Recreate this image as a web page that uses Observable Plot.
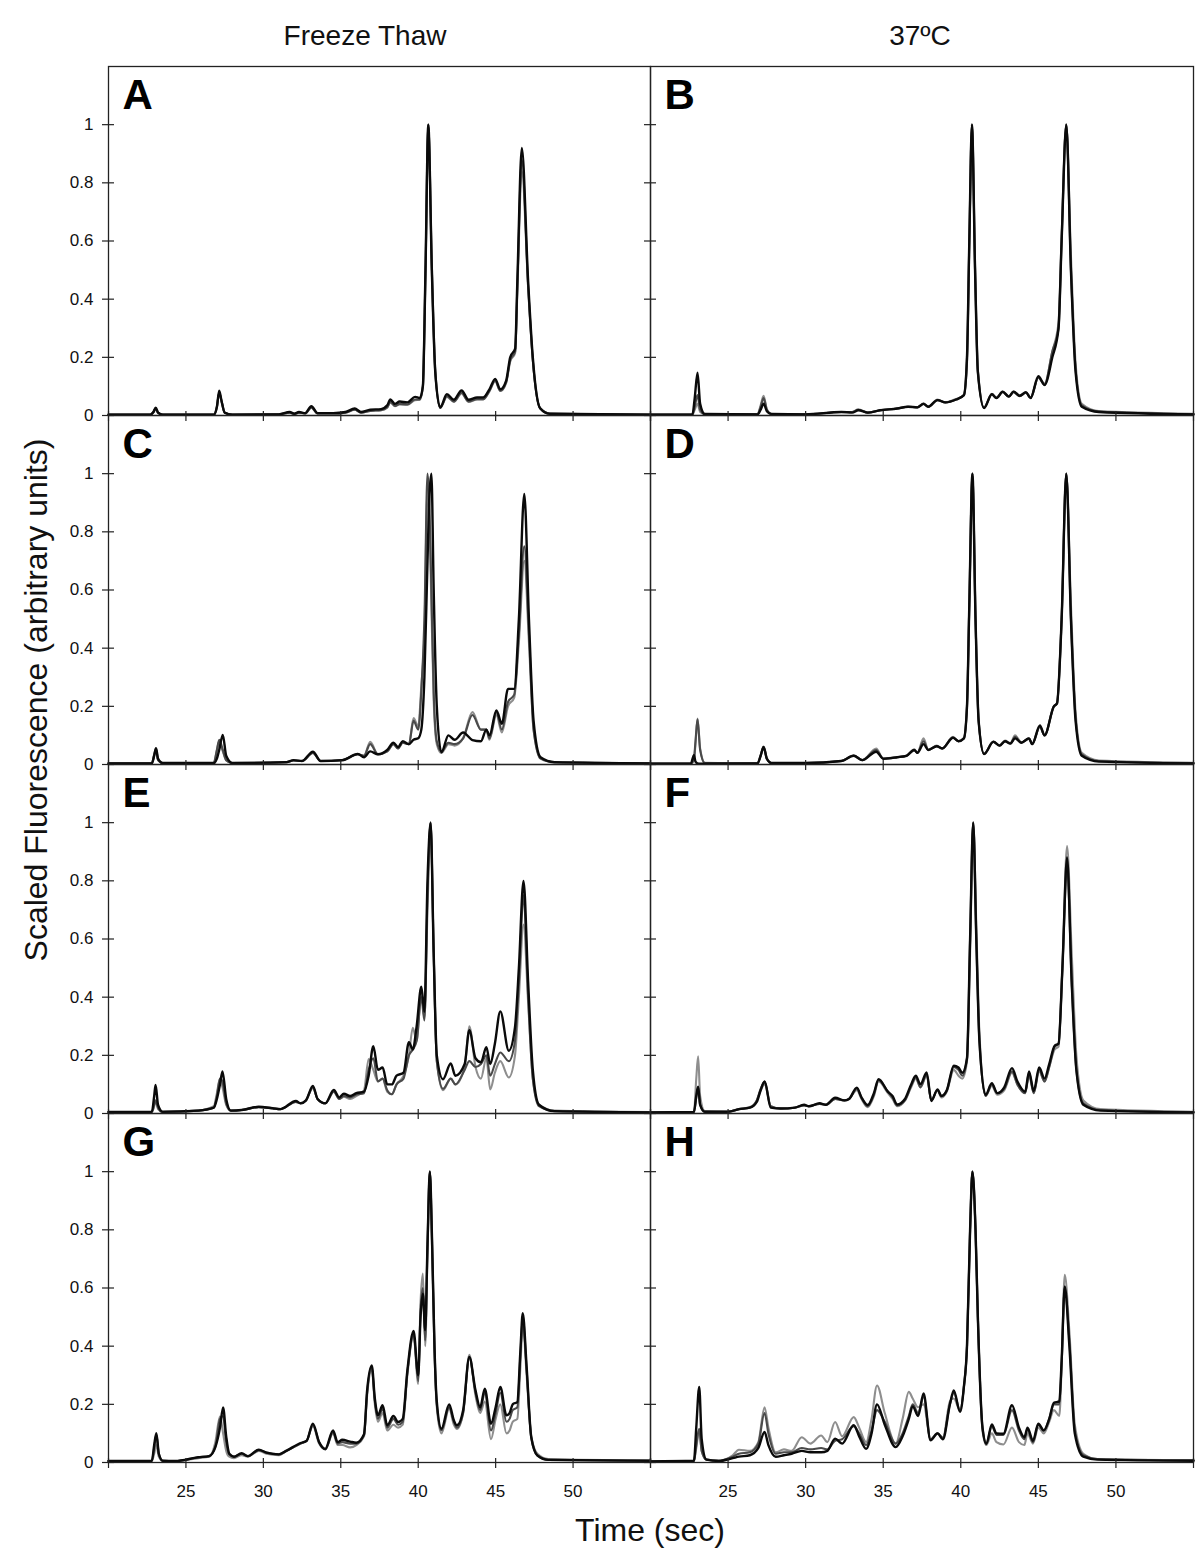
<!DOCTYPE html>
<html><head><meta charset="utf-8">
<script src="https://cdn.jsdelivr.net/npm/d3@7"></script>
<script src="https://cdn.jsdelivr.net/npm/@observablehq/plot@0.6"></script>
<style>
body{margin:0;background:#fff;font-family:"Liberation Sans",Arial,sans-serif;}
#fig{position:relative;width:1200px;height:1567px;overflow:hidden;background:#fff;}
.lbl{position:absolute;color:#111;white-space:nowrap;line-height:1;font-family:"Liberation Sans",Arial,sans-serif;}
.pl{position:absolute;}
</style></head><body><div id="fig"></div>
<script>
// ---- tick values ----
const xTicks = [20, 25, 30, 35, 40, 45, 50, 55];
const xLabels = [25, 30, 35, 40, 45, 50];
const yTicks = [0, 0.2, 0.4, 0.6, 0.8, 1];
const columnTitles = ["Freeze Thaw", "37ºC"];
const xTitle = "Time (sec)";
const yTitle = "Scaled Fluorescence (arbitrary units)";

// ---- Panel A (Freeze Thaw) ----
const tA = [20, 22.7, 22.9, 23.05, 23.2, 23.5, 26.8, 27.0, 27.15, 27.3, 27.5, 28, 31, 31.7, 32.0, 32.3, 32.7, 33.1, 33.5, 34.5, 35.3, 35.9, 36.3, 36.9, 37.6, 38.0, 38.2, 38.5, 38.8, 39.3, 39.8, 40.1, 40.3, 40.47, 40.65, 40.88, 41.1, 41.42, 41.85, 42.3, 42.8, 43.25, 43.8, 44.2, 44.6, 44.97, 45.3, 45.68, 45.94, 46.26, 46.4, 46.69, 47.1, 47.4, 47.87, 48.5, 55];
const A1 = [0.003, 0.003, 0.012, 0.027, 0.01, 0.003, 0.003, 0.03, 0.085, 0.05, 0.01, 0.003, 0.004, 0.012, 0.006, 0.012, 0.008, 0.032, 0.008, 0.008, 0.012, 0.024, 0.012, 0.02, 0.022, 0.035, 0.055, 0.04, 0.048, 0.045, 0.064, 0.06, 0.1, 0.5, 1.0, 0.5, 0.15, 0.028, 0.073, 0.054, 0.086, 0.054, 0.062, 0.062, 0.09, 0.126, 0.09, 0.12, 0.2, 0.23, 0.46, 0.92, 0.46, 0.2, 0.025, 0.006, 0.003];
const A2 = [0.003, 0.003, 0.012, 0.025, 0.01, 0.003, 0.003, 0.03, 0.08, 0.05, 0.01, 0.003, 0.004, 0.01, 0.006, 0.01, 0.007, 0.028, 0.007, 0.007, 0.01, 0.02, 0.01, 0.016, 0.018, 0.028, 0.047, 0.033, 0.04, 0.038, 0.055, 0.055, 0.1, 0.5, 1.0, 0.5, 0.15, 0.026, 0.066, 0.048, 0.078, 0.048, 0.056, 0.056, 0.085, 0.12, 0.085, 0.115, 0.19, 0.22, 0.44, 0.88, 0.44, 0.19, 0.025, 0.006, 0.003];
const A3 = [0.003, 0.003, 0.01, 0.022, 0.008, 0.003, 0.003, 0.028, 0.078, 0.048, 0.01, 0.003, 0.004, 0.01, 0.006, 0.01, 0.007, 0.027, 0.007, 0.007, 0.01, 0.02, 0.01, 0.016, 0.018, 0.027, 0.045, 0.032, 0.038, 0.037, 0.053, 0.054, 0.1, 0.48, 1.0, 0.52, 0.16, 0.026, 0.064, 0.047, 0.076, 0.047, 0.055, 0.055, 0.083, 0.118, 0.084, 0.112, 0.185, 0.215, 0.42, 0.84, 0.44, 0.19, 0.026, 0.007, 0.003];

// ---- Panel B (37C) ----
const tB = [20, 22.7, 22.85, 23.03, 23.2, 23.5, 26.9, 27.1, 27.29, 27.5, 27.8, 30, 32.3, 33.0, 33.4, 34.0, 34.8, 35.9, 36.6, 37.2, 37.6, 37.9, 38.5, 39.0, 39.7, 40.2, 40.4, 40.55, 40.72, 40.92, 41.1, 41.5, 42.0, 42.3, 42.7, 43.1, 43.4, 43.8, 44.2, 44.5, 45.0, 45.4, 45.9, 46.3, 46.5, 46.8, 47.1, 47.4, 47.8, 48.9, 55];
const B1 = [0.003, 0.003, 0.06, 0.147, 0.04, 0.005, 0.004, 0.02, 0.041, 0.015, 0.005, 0.004, 0.012, 0.01, 0.018, 0.01, 0.018, 0.024, 0.03, 0.028, 0.04, 0.03, 0.053, 0.045, 0.055, 0.07, 0.2, 0.6, 1.0, 0.5, 0.15, 0.026, 0.073, 0.06, 0.082, 0.065, 0.082, 0.068, 0.08, 0.06, 0.135, 0.105, 0.2, 0.3, 0.6, 1.0, 0.5, 0.15, 0.03, 0.012, 0.004];
const B2 = [0.003, 0.003, 0.03, 0.07, 0.02, 0.005, 0.004, 0.03, 0.06, 0.02, 0.005, 0.004, 0.012, 0.012, 0.02, 0.01, 0.018, 0.024, 0.03, 0.028, 0.04, 0.03, 0.053, 0.045, 0.055, 0.07, 0.2, 0.6, 1.0, 0.5, 0.15, 0.026, 0.073, 0.06, 0.08, 0.065, 0.08, 0.066, 0.078, 0.06, 0.13, 0.105, 0.22, 0.3, 0.6, 1.0, 0.5, 0.16, 0.035, 0.014, 0.005];
const B3 = [0.003, 0.003, 0.02, 0.04, 0.012, 0.005, 0.004, 0.035, 0.068, 0.022, 0.005, 0.004, 0.012, 0.012, 0.021, 0.01, 0.018, 0.024, 0.03, 0.028, 0.042, 0.03, 0.055, 0.045, 0.057, 0.07, 0.18, 0.58, 1.0, 0.52, 0.16, 0.028, 0.075, 0.062, 0.082, 0.066, 0.083, 0.068, 0.08, 0.062, 0.13, 0.11, 0.22, 0.32, 0.62, 1.0, 0.55, 0.18, 0.04, 0.015, 0.006];

// ---- Panel C (Freeze Thaw) ----
const tC = [20, 22.8, 22.95, 23.07, 23.2, 23.5, 26.8, 27.0, 27.15, 27.38, 27.6, 28, 31.5, 31.95, 32.5, 33.2, 33.7, 35.1, 36.1, 36.5, 36.9, 37.4, 38.0, 38.4, 38.7, 39.0, 39.4, 39.7, 40.0, 40.2, 40.4, 40.6, 40.72, 40.85, 41.0, 41.2, 41.5, 41.95, 42.35, 42.9, 43.5, 44.05, 44.4, 44.6, 45.05, 45.4, 45.8, 46.2, 46.5, 46.85, 47.15, 47.45, 47.9, 48.8, 55];
const C1 = [0.004, 0.004, 0.03, 0.056, 0.02, 0.005, 0.005, 0.02, 0.05, 0.102, 0.03, 0.005, 0.008, 0.015, 0.012, 0.044, 0.012, 0.015, 0.036, 0.025, 0.045, 0.035, 0.05, 0.075, 0.06, 0.08, 0.07, 0.085, 0.09, 0.12, 0.3, 0.7, 0.92, 1.0, 0.6, 0.2, 0.042, 0.1, 0.085, 0.11, 0.084, 0.08, 0.12, 0.1, 0.186, 0.14, 0.26, 0.26, 0.5, 0.93, 0.5, 0.15, 0.025, 0.008, 0.004];
const C2 = [0.004, 0.004, 0.035, 0.055, 0.015, 0.005, 0.006, 0.05, 0.085, 0.05, 0.015, 0.005, 0.008, 0.014, 0.012, 0.04, 0.012, 0.015, 0.035, 0.03, 0.07, 0.035, 0.045, 0.07, 0.055, 0.075, 0.07, 0.15, 0.12, 0.25, 0.5, 1.0, 0.9, 0.6, 0.25, 0.08, 0.045, 0.075, 0.07, 0.09, 0.17, 0.12, 0.12, 0.09, 0.18, 0.12, 0.215, 0.24, 0.45, 0.75, 0.45, 0.12, 0.02, 0.007, 0.004];
const C3 = [0.004, 0.004, 0.03, 0.05, 0.015, 0.005, 0.006, 0.05, 0.08, 0.045, 0.015, 0.005, 0.008, 0.014, 0.012, 0.04, 0.012, 0.015, 0.035, 0.03, 0.078, 0.035, 0.045, 0.07, 0.055, 0.075, 0.07, 0.16, 0.13, 0.27, 0.45, 0.95, 0.85, 0.55, 0.22, 0.07, 0.04, 0.07, 0.065, 0.09, 0.18, 0.12, 0.12, 0.085, 0.17, 0.11, 0.2, 0.23, 0.42, 0.7, 0.42, 0.12, 0.022, 0.008, 0.004];

// ---- Panel D (37C) ----
const tD = [20, 22.6, 22.8, 22.9, 23.03, 23.2, 23.5, 26.9, 27.1, 27.29, 27.5, 27.8, 30, 32.3, 33.1, 33.65, 34.55, 35.0, 35.9, 36.5, 37.0, 37.2, 37.6, 37.9, 38.45, 38.8, 39.5, 39.85, 40.2, 40.4, 40.55, 40.75, 40.95, 41.15, 41.5, 42.1, 42.5, 42.85, 43.2, 43.5, 43.9, 44.4, 44.6, 45.1, 45.4, 46.0, 46.2, 46.5, 46.8, 47.1, 47.4, 47.8, 48.9, 55];
const D1 = [0.003, 0.003, 0.032, 0.01, 0.004, 0.003, 0.003, 0.004, 0.03, 0.06, 0.02, 0.005, 0.005, 0.012, 0.03, 0.015, 0.044, 0.02, 0.025, 0.03, 0.05, 0.04, 0.07, 0.05, 0.063, 0.055, 0.092, 0.08, 0.09, 0.2, 0.55, 1.0, 0.5, 0.15, 0.036, 0.078, 0.065, 0.08, 0.072, 0.09, 0.075, 0.09, 0.07, 0.134, 0.1, 0.2, 0.21, 0.5, 1.0, 0.5, 0.15, 0.03, 0.01, 0.004];
const D2 = [0.003, 0.003, 0.02, 0.08, 0.155, 0.05, 0.005, 0.004, 0.03, 0.06, 0.02, 0.005, 0.005, 0.012, 0.03, 0.015, 0.05, 0.02, 0.025, 0.03, 0.05, 0.04, 0.08, 0.05, 0.063, 0.055, 0.092, 0.08, 0.09, 0.2, 0.55, 1.0, 0.5, 0.15, 0.036, 0.078, 0.065, 0.08, 0.072, 0.095, 0.075, 0.09, 0.07, 0.13, 0.1, 0.2, 0.21, 0.5, 1.0, 0.5, 0.16, 0.035, 0.012, 0.005];
const D3 = [0.003, 0.003, 0.015, 0.07, 0.158, 0.055, 0.006, 0.004, 0.032, 0.062, 0.02, 0.005, 0.005, 0.012, 0.032, 0.015, 0.055, 0.02, 0.026, 0.03, 0.052, 0.04, 0.09, 0.05, 0.065, 0.055, 0.095, 0.08, 0.09, 0.2, 0.55, 1.0, 0.5, 0.15, 0.038, 0.078, 0.066, 0.082, 0.074, 0.1, 0.076, 0.088, 0.07, 0.13, 0.1, 0.2, 0.21, 0.5, 1.0, 0.55, 0.18, 0.04, 0.014, 0.006];

// ---- Panel E (Freeze Thaw) ----
const tE = [20, 22.8, 22.95, 23.04, 23.2, 23.5, 25.8, 26.8, 27.0, 27.2, 27.36, 27.6, 27.9, 28.6, 29.7, 30.6, 31.1, 32.1, 32.4, 32.75, 33.2, 33.5, 34.0, 34.55, 34.9, 35.2, 35.6, 36.0, 36.5, 36.8, 37.1, 37.4, 37.7, 38.0, 38.3, 38.6, 39.05, 39.4, 39.65, 39.9, 40.2, 40.4, 40.6, 40.8, 41.0, 41.2, 41.6, 42.1, 42.4, 43.0, 43.3, 43.7, 44.05, 44.4, 44.65, 44.95, 45.3, 45.85, 46.25, 46.5, 46.8, 47.1, 47.4, 47.8, 48.8, 55];
const E1 = [0.005, 0.006, 0.06, 0.098, 0.03, 0.006, 0.01, 0.02, 0.05, 0.1, 0.145, 0.05, 0.01, 0.012, 0.023, 0.018, 0.015, 0.043, 0.035, 0.045, 0.095, 0.05, 0.035, 0.081, 0.055, 0.068, 0.06, 0.07, 0.075, 0.13, 0.231, 0.15, 0.158, 0.1, 0.1, 0.13, 0.14, 0.245, 0.22, 0.3, 0.436, 0.35, 0.8, 1.0, 0.55, 0.2, 0.118, 0.172, 0.13, 0.17, 0.286, 0.19, 0.176, 0.228, 0.17, 0.24, 0.351, 0.216, 0.297, 0.5, 0.8, 0.45, 0.15, 0.03, 0.008, 0.004];
const E2 = [0.005, 0.005, 0.03, 0.045, 0.02, 0.005, 0.01, 0.02, 0.06, 0.12, 0.11, 0.035, 0.01, 0.012, 0.022, 0.018, 0.015, 0.04, 0.035, 0.045, 0.09, 0.05, 0.035, 0.075, 0.05, 0.06, 0.055, 0.065, 0.07, 0.15, 0.19, 0.11, 0.12, 0.08, 0.066, 0.1, 0.12, 0.2, 0.22, 0.25, 0.4, 0.32, 0.75, 1.0, 0.55, 0.18, 0.085, 0.12, 0.1, 0.15, 0.18, 0.16, 0.17, 0.2, 0.13, 0.17, 0.21, 0.18, 0.25, 0.45, 0.75, 0.4, 0.12, 0.025, 0.008, 0.004];
const E3 = [0.005, 0.005, 0.025, 0.043, 0.015, 0.005, 0.01, 0.025, 0.07, 0.12, 0.09, 0.03, 0.01, 0.012, 0.022, 0.018, 0.015, 0.04, 0.035, 0.045, 0.088, 0.05, 0.035, 0.075, 0.05, 0.058, 0.05, 0.06, 0.08, 0.187, 0.15, 0.11, 0.12, 0.075, 0.066, 0.1, 0.13, 0.2, 0.295, 0.25, 0.42, 0.33, 0.7, 1.0, 0.55, 0.18, 0.08, 0.12, 0.1, 0.16, 0.3, 0.16, 0.12, 0.19, 0.083, 0.14, 0.18, 0.124, 0.2, 0.4, 0.65, 0.38, 0.12, 0.03, 0.01, 0.005];

// ---- Panel F (37C) ----
const tF = [20, 22.8, 22.95, 23.07, 23.2, 23.5, 25.0, 25.7, 26.4, 26.85, 27.1, 27.36, 27.75, 28.4, 29.3, 29.9, 30.2, 30.9, 31.3, 31.9, 32.5, 32.8, 33.3, 33.6, 34.0, 34.4, 34.7, 35.3, 35.6, 35.9, 36.4, 36.8, 37.1, 37.4, 37.8, 38.1, 38.5, 38.75, 39.1, 39.55, 39.85, 40.1, 40.4, 40.6, 40.8, 41.0, 41.2, 41.6, 42.0, 42.35, 42.8, 43.3, 43.65, 44.15, 44.4, 44.7, 45.05, 45.4, 45.7, 46.05, 46.3, 46.55, 46.85, 47.15, 47.45, 47.9, 49, 55];
const F1 = [0.004, 0.005, 0.06, 0.092, 0.03, 0.006, 0.006, 0.015, 0.02, 0.04, 0.08, 0.11, 0.02, 0.017, 0.02, 0.03, 0.025, 0.035, 0.03, 0.054, 0.045, 0.05, 0.089, 0.055, 0.029, 0.07, 0.118, 0.075, 0.06, 0.031, 0.05, 0.1, 0.13, 0.1, 0.141, 0.043, 0.083, 0.06, 0.08, 0.164, 0.158, 0.14, 0.19, 0.6, 1.0, 0.6, 0.25, 0.064, 0.104, 0.07, 0.09, 0.156, 0.11, 0.075, 0.145, 0.077, 0.158, 0.12, 0.17, 0.233, 0.24, 0.5, 0.88, 0.45, 0.15, 0.03, 0.01, 0.004];
const F2 = [0.004, 0.005, 0.055, 0.09, 0.03, 0.006, 0.006, 0.015, 0.02, 0.045, 0.085, 0.11, 0.025, 0.017, 0.02, 0.028, 0.025, 0.033, 0.03, 0.05, 0.045, 0.05, 0.085, 0.055, 0.025, 0.065, 0.115, 0.075, 0.055, 0.028, 0.045, 0.095, 0.125, 0.09, 0.135, 0.045, 0.08, 0.06, 0.08, 0.16, 0.15, 0.13, 0.19, 0.6, 1.0, 0.6, 0.25, 0.06, 0.1, 0.07, 0.085, 0.145, 0.1, 0.07, 0.14, 0.07, 0.15, 0.11, 0.16, 0.23, 0.24, 0.5, 0.85, 0.45, 0.15, 0.035, 0.012, 0.005];
const F3 = [0.004, 0.005, 0.12, 0.197, 0.06, 0.008, 0.006, 0.015, 0.022, 0.045, 0.08, 0.1, 0.025, 0.017, 0.02, 0.028, 0.025, 0.033, 0.03, 0.05, 0.045, 0.05, 0.08, 0.05, 0.022, 0.06, 0.11, 0.07, 0.05, 0.025, 0.045, 0.09, 0.12, 0.09, 0.13, 0.045, 0.08, 0.055, 0.075, 0.15, 0.13, 0.12, 0.18, 0.55, 1.0, 0.65, 0.28, 0.06, 0.095, 0.065, 0.08, 0.14, 0.1, 0.07, 0.13, 0.07, 0.145, 0.11, 0.16, 0.22, 0.23, 0.5, 0.92, 0.55, 0.2, 0.045, 0.015, 0.006];

// ---- Panel G (Freeze Thaw) ----
const tG = [20, 22.8, 22.95, 23.09, 23.25, 23.5, 24.3, 25.8, 26.5, 26.9, 27.2, 27.4, 27.6, 27.8, 28.1, 28.6, 29.0, 29.7, 30.2, 31.0, 31.5, 32.4, 32.8, 33.2, 33.6, 34.0, 34.5, 34.8, 35.1, 35.6, 36.0, 36.5, 36.7, 37.0, 37.2, 37.4, 37.7, 38.0, 38.4, 38.7, 39.0, 39.3, 39.7, 40.0, 40.15, 40.3, 40.45, 40.6, 40.75, 40.9, 41.05, 41.2, 41.5, 42.0, 42.3, 42.5, 42.9, 43.3, 43.7, 44.0, 44.3, 44.7, 45.0, 45.3, 45.7, 45.9, 46.1, 46.4, 46.6, 46.75, 47.0, 47.3, 47.7, 48.4, 55];
const G1 = [0.005, 0.006, 0.06, 0.101, 0.03, 0.006, 0.005, 0.018, 0.022, 0.053, 0.12, 0.189, 0.09, 0.03, 0.02, 0.032, 0.022, 0.044, 0.034, 0.028, 0.041, 0.067, 0.075, 0.133, 0.07, 0.047, 0.11, 0.07, 0.078, 0.072, 0.068, 0.097, 0.248, 0.334, 0.22, 0.162, 0.197, 0.128, 0.16, 0.139, 0.15, 0.317, 0.452, 0.3, 0.5, 0.58, 0.455, 0.75, 1.0, 0.75, 0.4, 0.21, 0.116, 0.2, 0.145, 0.128, 0.18, 0.363, 0.248, 0.19, 0.254, 0.133, 0.19, 0.26, 0.162, 0.17, 0.2, 0.208, 0.386, 0.513, 0.33, 0.087, 0.024, 0.009, 0.006];
const G2 = [0.005, 0.006, 0.05, 0.095, 0.03, 0.006, 0.005, 0.018, 0.022, 0.055, 0.15, 0.16, 0.07, 0.028, 0.02, 0.03, 0.022, 0.042, 0.034, 0.028, 0.04, 0.065, 0.075, 0.13, 0.07, 0.045, 0.105, 0.065, 0.07, 0.065, 0.065, 0.095, 0.24, 0.33, 0.21, 0.15, 0.185, 0.12, 0.15, 0.13, 0.14, 0.31, 0.44, 0.28, 0.52, 0.6, 0.42, 0.75, 1.0, 0.75, 0.4, 0.2, 0.11, 0.19, 0.14, 0.12, 0.17, 0.36, 0.24, 0.18, 0.24, 0.11, 0.17, 0.24, 0.14, 0.15, 0.18, 0.19, 0.37, 0.5, 0.32, 0.085, 0.024, 0.009, 0.006];
const G3 = [0.005, 0.005, 0.03, 0.06, 0.02, 0.005, 0.005, 0.015, 0.02, 0.07, 0.159, 0.1, 0.04, 0.02, 0.015, 0.025, 0.02, 0.04, 0.03, 0.025, 0.04, 0.065, 0.075, 0.125, 0.065, 0.045, 0.1, 0.06, 0.06, 0.052, 0.06, 0.09, 0.23, 0.32, 0.2, 0.14, 0.17, 0.11, 0.13, 0.12, 0.13, 0.3, 0.44, 0.27, 0.55, 0.65, 0.4, 0.72, 1.0, 0.72, 0.38, 0.19, 0.1, 0.185, 0.13, 0.115, 0.17, 0.37, 0.23, 0.17, 0.21, 0.08, 0.15, 0.2, 0.1, 0.11, 0.14, 0.15, 0.33, 0.48, 0.3, 0.09, 0.03, 0.012, 0.007];

// ---- Panel H (37C) ----
const tH = [20, 22.8, 22.95, 23.14, 23.3, 23.6, 24.4, 25.3, 25.7, 26.4, 26.95, 27.35, 27.6, 28.07, 28.6, 29.1, 29.75, 30.3, 31.0, 31.4, 31.9, 32.35, 33.1, 33.45, 33.9, 34.25, 34.6, 35.1, 35.8, 36.25, 36.65, 36.9, 37.25, 37.6, 38.05, 38.5, 38.85, 39.3, 39.55, 39.95, 40.2, 40.4, 40.6, 40.75, 40.95, 41.1, 41.4, 41.65, 42.0, 42.3, 42.75, 43.3, 43.75, 44.1, 44.3, 44.65, 45.0, 45.35, 45.7, 46.0, 46.35, 46.5, 46.7, 47.0, 47.35, 47.9, 48.8, 55];
const H1 = [0.004, 0.006, 0.12, 0.26, 0.08, 0.01, 0.005, 0.015, 0.02, 0.025, 0.05, 0.105, 0.06, 0.02, 0.025, 0.03, 0.04, 0.035, 0.035, 0.04, 0.082, 0.065, 0.128, 0.09, 0.047, 0.1, 0.2, 0.13, 0.053, 0.09, 0.15, 0.193, 0.16, 0.237, 0.076, 0.1, 0.08, 0.2, 0.248, 0.174, 0.26, 0.4, 0.8, 1.0, 0.8, 0.5, 0.12, 0.064, 0.131, 0.1, 0.099, 0.197, 0.12, 0.087, 0.12, 0.075, 0.133, 0.11, 0.15, 0.205, 0.21, 0.35, 0.605, 0.4, 0.1, 0.02, 0.01, 0.006];
const H2 = [0.004, 0.005, 0.06, 0.116, 0.04, 0.01, 0.006, 0.02, 0.03, 0.035, 0.065, 0.17, 0.1, 0.03, 0.035, 0.035, 0.05, 0.045, 0.05, 0.045, 0.075, 0.08, 0.125, 0.1, 0.06, 0.11, 0.18, 0.14, 0.065, 0.1, 0.16, 0.2, 0.17, 0.225, 0.08, 0.1, 0.085, 0.2, 0.24, 0.18, 0.26, 0.4, 0.8, 1.0, 0.8, 0.5, 0.12, 0.065, 0.125, 0.095, 0.095, 0.18, 0.11, 0.08, 0.115, 0.07, 0.13, 0.11, 0.15, 0.2, 0.2, 0.34, 0.6, 0.42, 0.11, 0.025, 0.012, 0.007];
const H3 = [0.004, 0.005, 0.05, 0.11, 0.04, 0.01, 0.006, 0.025, 0.044, 0.04, 0.07, 0.19, 0.12, 0.035, 0.045, 0.04, 0.087, 0.065, 0.093, 0.07, 0.139, 0.09, 0.156, 0.12, 0.07, 0.15, 0.265, 0.17, 0.065, 0.15, 0.243, 0.22, 0.19, 0.2, 0.08, 0.1, 0.085, 0.21, 0.22, 0.18, 0.26, 0.4, 0.8, 1.0, 0.8, 0.5, 0.11, 0.06, 0.1, 0.07, 0.062, 0.12, 0.07, 0.06, 0.1, 0.065, 0.12, 0.1, 0.14, 0.18, 0.16, 0.33, 0.645, 0.45, 0.13, 0.03, 0.012, 0.008];

// ---- panel table ----
const panels = [
  {id: "A", col: 0, row: 0, t: tA, k: A1, d: A2, l: A3},
  {id: "B", col: 1, row: 0, t: tB, k: B1, d: B2, l: B3},
  {id: "C", col: 0, row: 1, t: tC, k: C1, d: C2, l: C3},
  {id: "D", col: 1, row: 1, t: tD, k: D1, d: D2, l: D3},
  {id: "E", col: 0, row: 2, t: tE, k: E1, d: E2, l: E3},
  {id: "F", col: 1, row: 2, t: tF, k: F1, d: F2, l: F3},
  {id: "G", col: 0, row: 3, t: tG, k: G1, d: G2, l: G3},
  {id: "H", col: 1, row: 3, t: tH, k: H1, d: H2, l: H3}
];

// ---- layout ----
const fig = document.getElementById("fig");
const colX = [108, 650], colW = [542, 543];
const rowY = [66, 415, 764, 1113], rowH = 349;
const mL = 60, mR = 12, mT = 12, mB = 48;
const FONT = '"Liberation Sans", Arial, Helvetica, sans-serif';

for (const p of panels) {
  const n = p.t.length;
  for (const arr of [p.k, p.d, p.l]) {
    if (arr.length !== n) throw new Error(p.id + " length mismatch " + arr.length + " vs " + n);
  }
  const rows = (arr) => p.t.map((t, i) => ({t, v: arr[i]}));
  const marks = [
    Plot.line(rows(p.l), {x: "t", y: "v", stroke: "#8e8e8e", strokeWidth: 2.1, curve: "monotone-x"}),
    Plot.line(rows(p.d), {x: "t", y: "v", stroke: "#4a4a4a", strokeWidth: 2.1, curve: "monotone-x"}),
    Plot.line(rows(p.k), {x: "t", y: "v", stroke: "#0a0a0a", strokeWidth: 2.4, curve: "monotone-x"}),
    Plot.frame({stroke: "#222", strokeWidth: 1.3}),
    Plot.axisX({ticks: xTicks, tickSize: 10, dy: -4, fill: "none", stroke: "#222", strokeWidth: 1.2, label: null}),
    Plot.axisY({ticks: yTicks, tickSize: 12, dx: 6, fill: "none", stroke: "#222", strokeWidth: 1.2, label: null}),
    Plot.text([p.id], {text: d => d, frameAnchor: "top-left", dx: 14, dy: 13, fontSize: 42, fontWeight: "bold", textAnchor: "start", lineAnchor: "top", fill: "#000"})
  ];
  if (p.row === 3) marks.push(Plot.axisX({ticks: xLabels, tickSize: 0, tickPadding: 22, stroke: "none", fill: "#111", label: null, tickFormat: d => String(d)}));
  if (p.col === 0) marks.push(Plot.axisY({ticks: yTicks, tickSize: 0, tickPadding: 15, stroke: "none", fill: "#111", label: null, tickFormat: d => String(d)}));

  const w = colW[p.col], h = rowH;
  const chart = Plot.plot({
    width: w + mL + mR,
    height: h + mT + mB,
    marginLeft: mL, marginRight: mR, marginTop: mT, marginBottom: mB,
    x: {domain: [20, 55]},
    y: {domain: [0, 1.2]},
    style: {background: "transparent", overflow: "visible", fontFamily: FONT, fontSize: "17px", color: "#111"},
    marks
  });
  chart.classList.add("pl");
  chart.style.left = (colX[p.col] - mL) + "px";
  chart.style.top = (rowY[p.row] - mT) + "px";
  fig.appendChild(chart);
}

// ---- titles & axis labels (HTML text) ----
function label(text, cx, baseline, fs, rotate) {
  const el = document.createElement("div");
  el.className = "lbl";
  el.textContent = text;
  el.style.fontSize = fs + "px";
  if (!rotate) {
    el.style.left = cx + "px";
    el.style.top = (baseline - fs * 0.8465) + "px";
    el.style.transform = "translateX(-50%)";
  } else {
    el.style.left = (cx - fs * 0.3465) + "px";
    el.style.top = baseline + "px";
    el.style.transform = "translate(-50%, -50%) rotate(-90deg)";
  }
  fig.appendChild(el);
}
label(columnTitles[0], 365, 46, 28);
label(columnTitles[1], 920, 46, 28);
label(xTitle, 650, 1541, 32);
label(yTitle, 47, 700, 32, true);
</script></body></html>
